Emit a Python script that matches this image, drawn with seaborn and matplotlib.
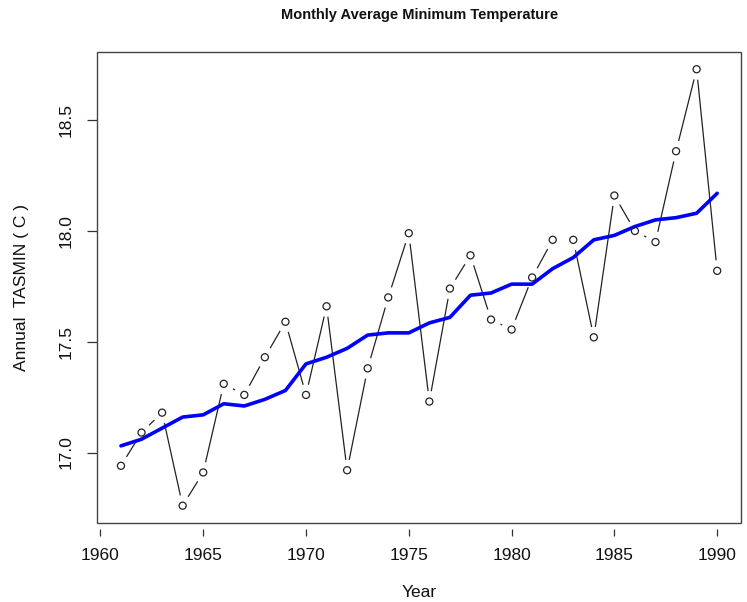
import matplotlib
matplotlib.use("Agg")
import matplotlib.pyplot as plt
from matplotlib.patches import Rectangle
import seaborn as sns
import pandas as pd
import numpy as np

years = list(range(1961, 1991))
tasmin = [16.94, 17.09, 17.18, 16.76, 16.91, 17.31, 17.26, 17.43, 17.59, 17.26,
          17.66, 16.92, 17.38, 17.70, 17.99, 17.23, 17.74, 17.89, 17.60, 17.555,
          17.79, 17.96, 17.96, 17.52, 18.16, 18.00, 17.95, 18.36, 18.73, 17.82]
smooth = [17.03, 17.06, 17.11, 17.16, 17.17, 17.22, 17.21, 17.24, 17.28, 17.40,
          17.43, 17.47, 17.53, 17.54, 17.54, 17.585, 17.61, 17.71, 17.72, 17.76,
          17.76, 17.83, 17.88, 17.96, 17.98, 18.02, 18.05, 18.06, 18.08, 18.17]
xticks = [1960, 1965, 1970, 1975, 1980, 1985, 1990]
yticks = [17.0, 17.5, 18.0, 18.5]

df = pd.DataFrame({"Year": years, "TASMIN": tasmin, "Smooth": smooth})

sns.set_style("white")
plt.rcParams['font.family'] = ['Liberation Sans', 'DejaVu Sans']

fig = plt.figure(figsize=(7.47, 6.02), dpi=100)
ax = fig.add_axes([0.130, 0.131, 0.862, 0.783])

# R-style: axis ticks slightly detached below the box, box drawn separately
ax.spines["bottom"].set_position(("outward", 4))
for s in ax.spines.values():
    s.set_color("none")

# black connecting line
sns.lineplot(data=df, x="Year", y="TASMIN", ax=ax, color="#222222", linewidth=0.9,
             zorder=2, estimator=None)
# white gaps around points (R type="b")
ax.scatter(df["Year"], df["TASMIN"], s=230, color="white", edgecolors="none", zorder=3)
# blue smooth line
sns.lineplot(data=df, x="Year", y="Smooth", ax=ax, color="#0000ff", linewidth=2.6,
             zorder=4, estimator=None)
# open circle markers
sns.scatterplot(data=df, x="Year", y="TASMIN", ax=ax, s=26, marker="o",
                facecolor="none", edgecolor="#222222", linewidth=0.9, zorder=5)

xr = max(years) - min(years)
ax.set_xlim(min(years) - 0.04 * xr, max(years) + 0.04 * xr)
yr = max(tasmin) - min(tasmin)
ax.set_ylim(min(tasmin) - 0.04 * yr, max(tasmin) + 0.04 * yr)

ax.set_xticks(xticks)
ax.set_xticklabels([str(t) for t in xticks], fontsize=12.5, color="#111111")
ax.set_yticks(yticks)
ax.set_yticklabels([f"{t:.1f}" for t in yticks], fontsize=12.5, rotation=90,
                   va="center", color="#111111")
ax.tick_params(axis="both", direction="out", width=0.9, color="#333333",
               bottom=True, left=True, top=False, right=False)
ax.tick_params(axis="x", length=5, pad=9)
ax.tick_params(axis="y", length=7, pad=10)

ax.add_patch(Rectangle((0, 0), 1, 1, transform=ax.transAxes, fill=False,
                       edgecolor="#444444", linewidth=1.0, zorder=10, clip_on=False))

ax.set_xlabel("Year", fontsize=12.5, labelpad=16, color="#111111")
ax.set_ylabel("Annual  TASMIN ( C )", fontsize=12.5, labelpad=21, color="#111111")
ax.text(0.5, 1.0786, "Monthly Average Minimum Temperature", transform=ax.transAxes,
        ha="center", va="center", fontsize=10.5, fontweight="bold", color="#111111")

fig.savefig("out.png", dpi=100)
